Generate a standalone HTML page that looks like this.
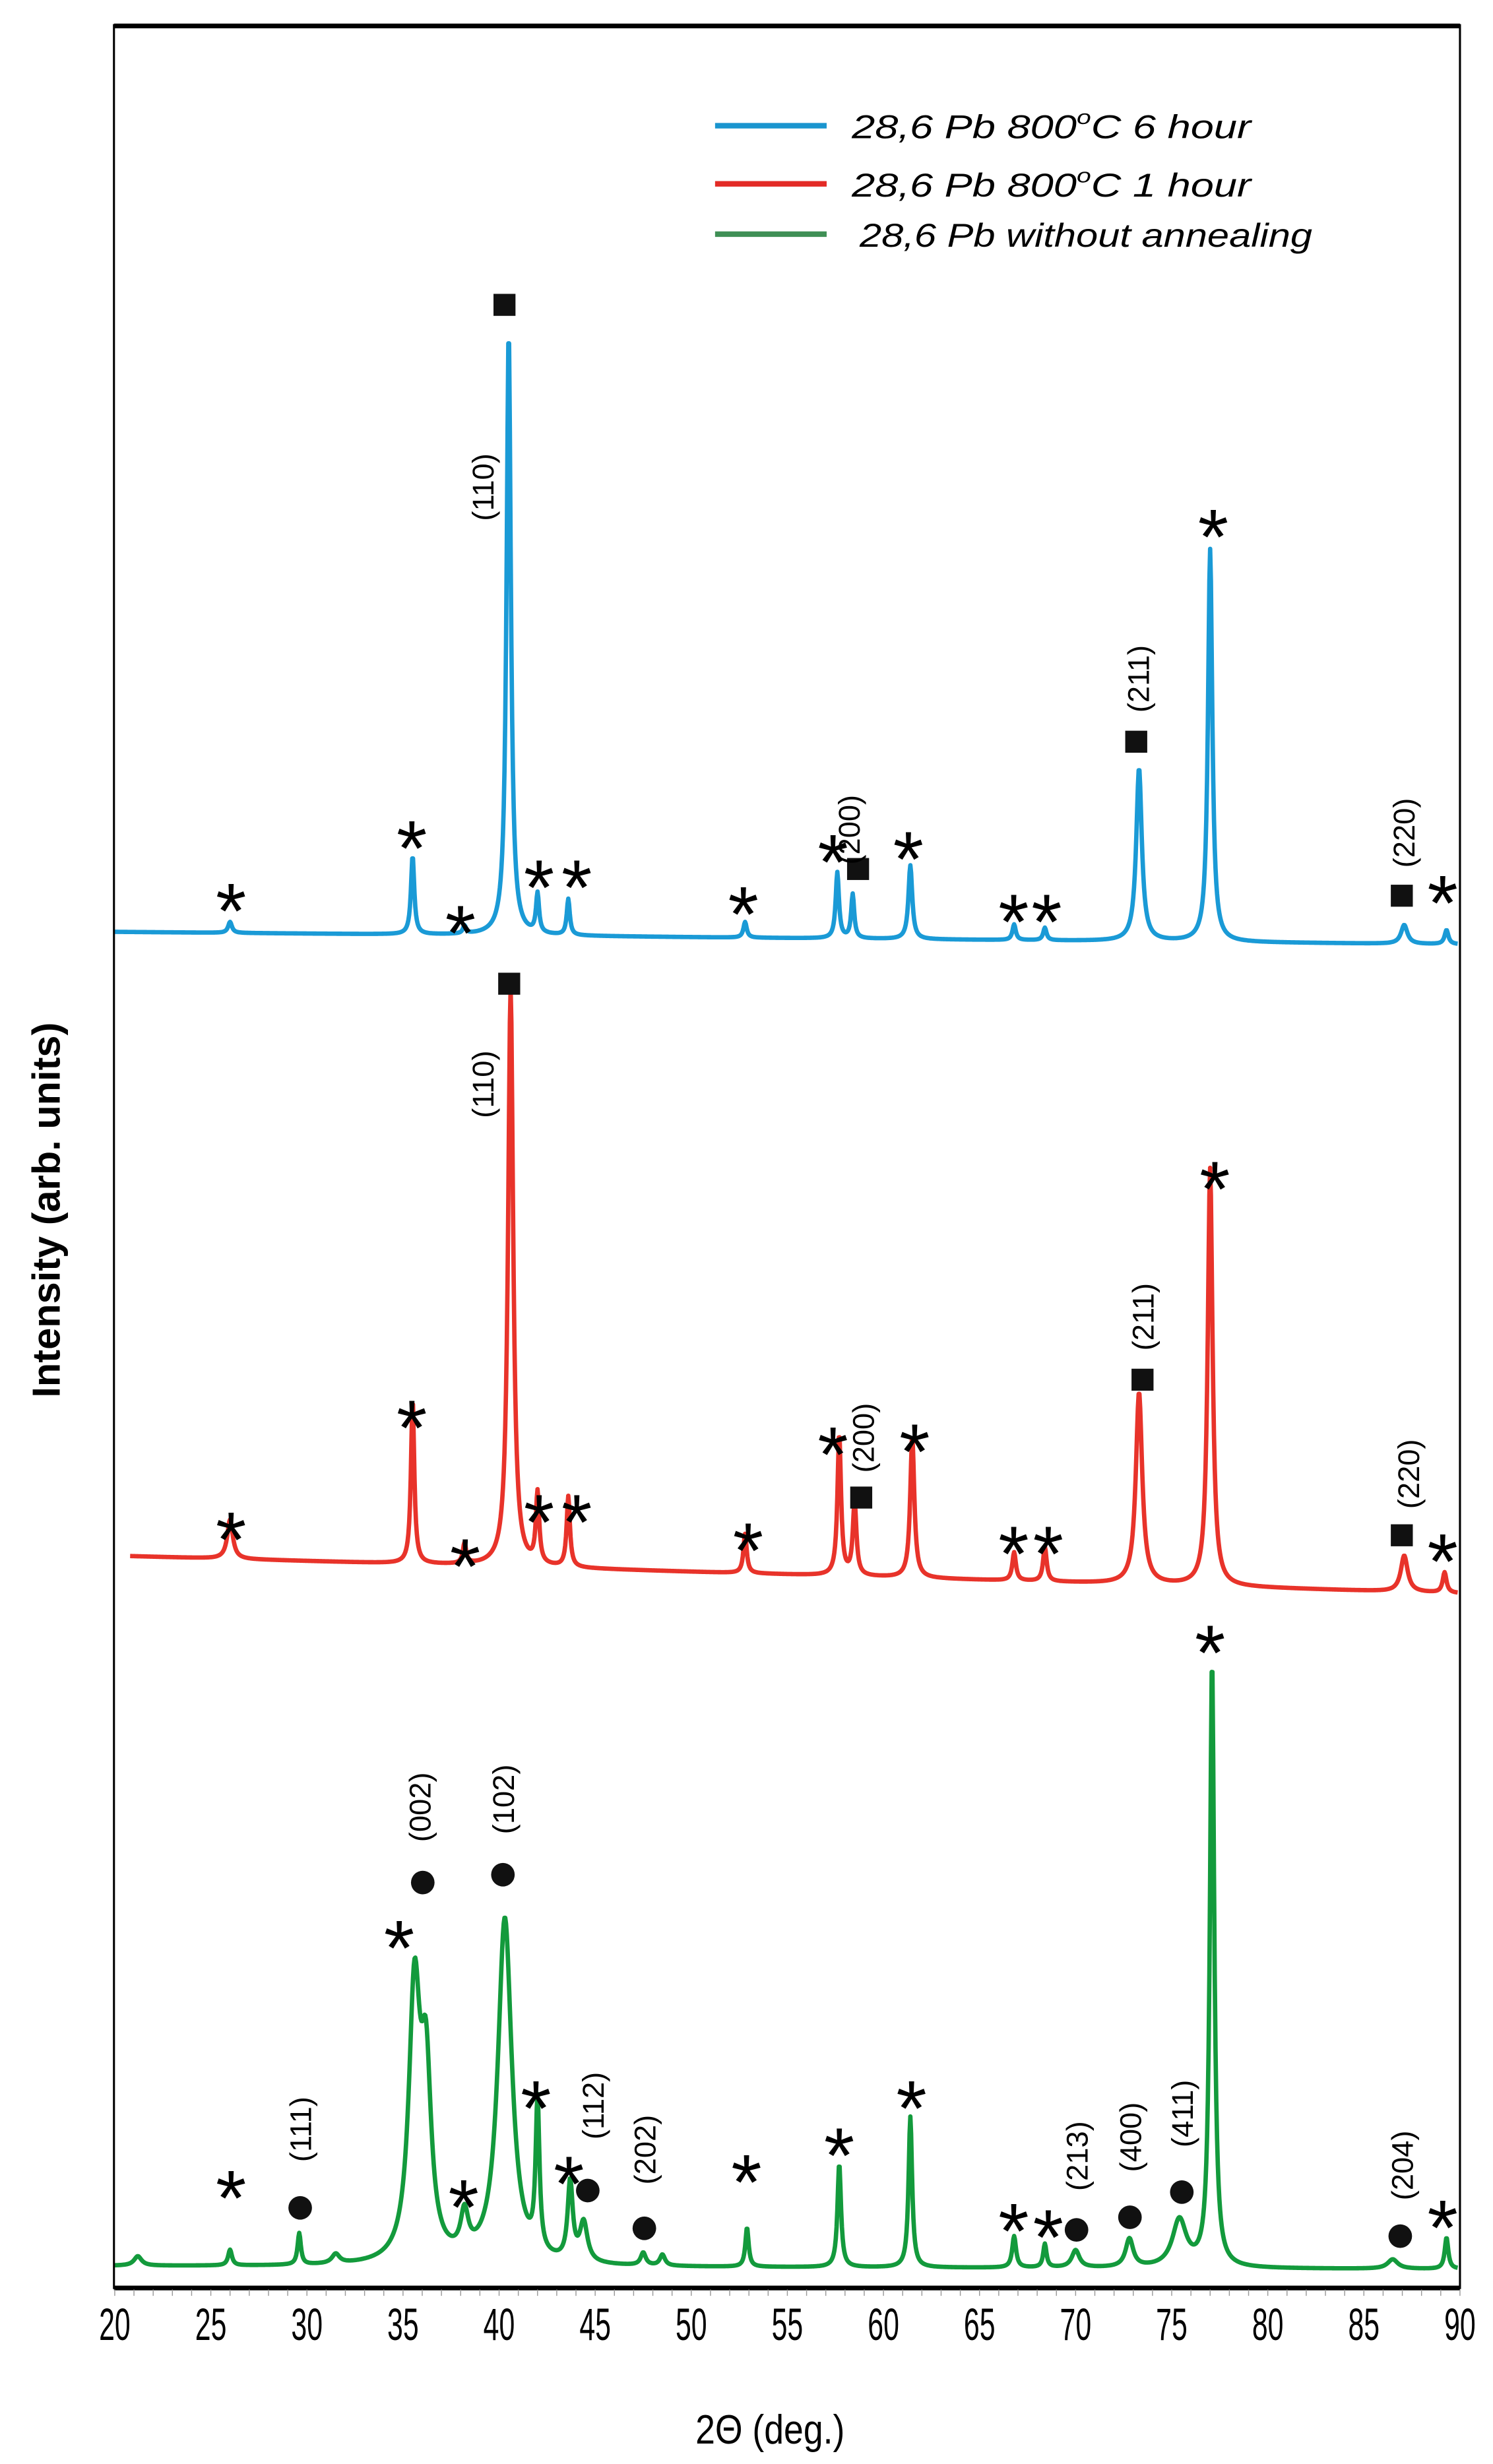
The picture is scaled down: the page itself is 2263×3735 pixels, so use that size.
<!DOCTYPE html>
<html><head><meta charset="utf-8"><style>
html,body{margin:0;padding:0;background:#fff;}
svg{display:block;}
text{font-family:"Liberation Sans",sans-serif;}
</style></head><body>
<svg id="chart" width="2263" height="3735" viewBox="0 0 950 1568" xmlns="http://www.w3.org/2000/svg">
<rect x="0" y="0" width="950" height="1568" fill="#fff"/>
<g id="plot"></g>
<g id="annot"></g>
<rect x="72.5" y="16" width="856.5" height="1440" fill="none" stroke="#000" stroke-width="1.3"/>
<line x1="72.5" y1="16.5" x2="929" y2="16.5" stroke="#000" stroke-width="3"/>
<line x1="72.5" y1="1456" x2="929" y2="1456" stroke="#000" stroke-width="3"/>
<g id="xticks"></g>
<text x="490" y="1555" font-size="26" text-anchor="middle" textLength="95" lengthAdjust="spacingAndGlyphs">2Θ (deg.)</text>
<text transform="translate(38,770) rotate(-90)" font-size="25" font-weight="bold" text-anchor="middle">Intensity (arb. units)</text>
<g>
<line x1="455" y1="80" x2="526" y2="80" stroke="#1a95cf" stroke-width="3.5"/>
<text x="542" y="88" font-size="21" font-style="italic" textLength="254" lengthAdjust="spacingAndGlyphs">28,6 Pb 800<tspan dy="-9" font-size="13">o</tspan><tspan dy="9">C 6 hour</tspan></text>
<line x1="455" y1="117" x2="526" y2="117" stroke="#e32b26" stroke-width="3.5"/>
<text x="542" y="125" font-size="21" font-style="italic" textLength="254" lengthAdjust="spacingAndGlyphs">28,6 Pb 800<tspan dy="-9" font-size="13">o</tspan><tspan dy="9">C 1 hour</tspan></text>
<line x1="455" y1="149" x2="526" y2="149" stroke="#3f8f55" stroke-width="3.5"/>
<text x="547" y="157" font-size="21" font-style="italic" textLength="288" lengthAdjust="spacingAndGlyphs">28,6 Pb without annealing</text>
</g>
</svg>
<script>
// x axis
const xTicks = [20,25,30,35,40,45,50,55,60,65,70,75,80,85,90];
// series: blue (6 h)
const bluePos = [26.0,35.5,38.2,40.5,42.0,43.6,52.8,57.6,58.4,61.4,66.8,68.4,73.3,77.0,87.1,89.3];
const blueInt = [7,50,5,385,25,23,10,42,28,47,10,8,110,250,12,9];
const blueWid = [0.15,0.13,0.12,0.17,0.12,0.12,0.13,0.13,0.12,0.15,0.13,0.13,0.22,0.17,0.25,0.15];
const blueBase = [593,601];
// series: red (1 h)
const redPos = [26.0,35.5,38.2,40.6,42.0,43.6,52.8,57.7,58.5,61.5,66.8,68.4,73.3,77.0,87.1,89.2];
const redInt = [25,105,13,368,45,45,25,90,47,90,18,22,122,266,23,13];
const redWid = [0.22,0.13,0.13,0.2,0.13,0.13,0.13,0.14,0.14,0.16,0.14,0.14,0.25,0.19,0.27,0.15];
const redBase = [990,1014];
// series: green (without annealing)
const greenPos = [21.2,26.0,29.6,31.5,35.6,36.2,38.2,40.3,42.0,43.7,44.4,47.5,48.5,52.9,57.7,61.4,66.8,68.4,70.0,72.8,75.4,77.1,86.5,89.3];
const greenInt = [6,10,20,6,170,110,25,220,95,50,25,8,7,25,66,96,20,15,11,18,30,386,6,20];
const greenWid = [0.3,0.15,0.13,0.3,0.45,0.4,0.3,0.55,0.15,0.2,0.3,0.2,0.2,0.13,0.14,0.14,0.15,0.13,0.3,0.3,0.55,0.17,0.4,0.14];
const greenBase = [1442,1444];

function xs(v){return 73+(v-20)*(929-73)/70;}
function ys(intensity, base){return base-intensity;}

const NS="http://www.w3.org/2000/svg";
const plot=document.getElementById('plot');
const xt=document.getElementById('xticks');
const ann=document.getElementById('annot');

xTicks.forEach(t=>{
  const tx=document.createElementNS(NS,'text');
  
  
  tx.setAttribute('x',xs(t)); tx.setAttribute('y',1489);
  tx.setAttribute('font-size','29'); tx.setAttribute('text-anchor','middle');
  tx.setAttribute('textLength','20'); tx.setAttribute('lengthAdjust','spacingAndGlyphs');
  tx.textContent=t; xt.appendChild(tx);
});
for(let d=20; d<=90; d++){
  const l=document.createElementNS(NS,'line');
  
  
  l.setAttribute('x1',xs(d)); l.setAttribute('x2',xs(d));
  l.setAttribute('y1',1457); l.setAttribute('y2',1461);
  l.setAttribute('stroke','#999'); l.setAttribute('stroke-width','0.6');
  xt.appendChild(l);
}

function drawSeries(pos,inten,wid,base,start,color,name){
  let d='';
  for(let x=start; x<=89.9; x+=0.04){
    let I=0;
    for(let i=0;i<pos.length;i++){const u=(x-pos[i])/wid[i]; I+=inten[i]/(1+u*u*1.6);}
    const b=base[0]+(base[1]-base[0])*(x-20)/70;
    d+=(d?'L':'M')+xs(x).toFixed(2)+','+ys(I,b).toFixed(2);
  }
  const p=document.createElementNS(NS,'path');
  
  
  p.setAttribute('d',d); p.setAttribute('fill','none');
  p.setAttribute('stroke',color); p.setAttribute('stroke-width','2.8');
  p.setAttribute('stroke-linejoin','round');
  plot.appendChild(p);
}
drawSeries(bluePos,blueInt,blueWid,blueBase,20.0,'#1a9ad6','series-6-hour');
drawSeries(redPos,redInt,redWid,redBase,20.8,'#e8332a','series-1-hour');
drawSeries(greenPos,greenInt,greenWid,greenBase,20.0,'#139a3c','series-without-annealing');

// annotations (display coordinates)
const stars=[[147,568],[262,528],[293,582],[343,553],[367,553],[473,570],[530,537],[578,535],[645,575],[666,575],[772,330],[918,563],
[147,968],[262,897],[296,985],[343,957],[367,957],[476,975],[530,914],[582,912],[645,977],[667,977],[773,745],[918,982],
[147,1387],[254,1228],[295,1393],[341,1330],[362,1378],[475,1377],[534,1360],[580,1330],[645,1408],[667,1412],[770,1040],[918,1406]];
const squares=[[321,194],[546,553],[723,472],[892,570],[324,626],[548,953],[727,878],[892,977]];
const circles=[[191,1405],[269,1198],[320,1193],[374,1394],[410,1418],[685,1419],[719,1411],[752,1395],[891,1423]];
const labels=[["(110)",307,310],["(200)",540,528],["(211)",724,432],["(220)",893,530],
["(110)",307,690],["(200)",549,915],["(211)",727,838],["(220)",896,938],
["(111)",191,1355],["(002)",267,1150],["(102)",320,1145],["(112)",377,1340],["(202)",410,1368],["(213)",685,1372],["(400)",719,1360],["(411)",752,1345],["(204)",892,1378]];
stars.forEach(s=>{
  const t=document.createElementNS(NS,'text');
  
  
  t.setAttribute('x',s[0]); t.setAttribute('y',s[1]+29);
  t.setAttribute('font-size','50'); t.setAttribute('text-anchor','middle');
  t.textContent='*'; ann.appendChild(t);
});
squares.forEach(s=>{
  const r=document.createElementNS(NS,'rect');
  
  
  r.setAttribute('x',s[0]-7); r.setAttribute('y',s[1]-7);
  r.setAttribute('width',14); r.setAttribute('height',14); r.setAttribute('fill','#111');
  ann.appendChild(r);
});
circles.forEach(s=>{
  const c=document.createElementNS(NS,'circle');
  
  
  c.setAttribute('cx',s[0]); c.setAttribute('cy',s[1]); c.setAttribute('r',7.5); c.setAttribute('fill','#111');
  ann.appendChild(c);
});
labels.forEach(s=>{
  const t=document.createElementNS(NS,'text');
  
  
  t.setAttribute('transform','translate('+s[1]+','+s[2]+') rotate(-90)');
  t.setAttribute('font-size','19'); t.setAttribute('text-anchor','middle');
  t.setAttribute('dy','7');
  t.textContent=s[0]; ann.appendChild(t);
});
</script>
</body></html>
